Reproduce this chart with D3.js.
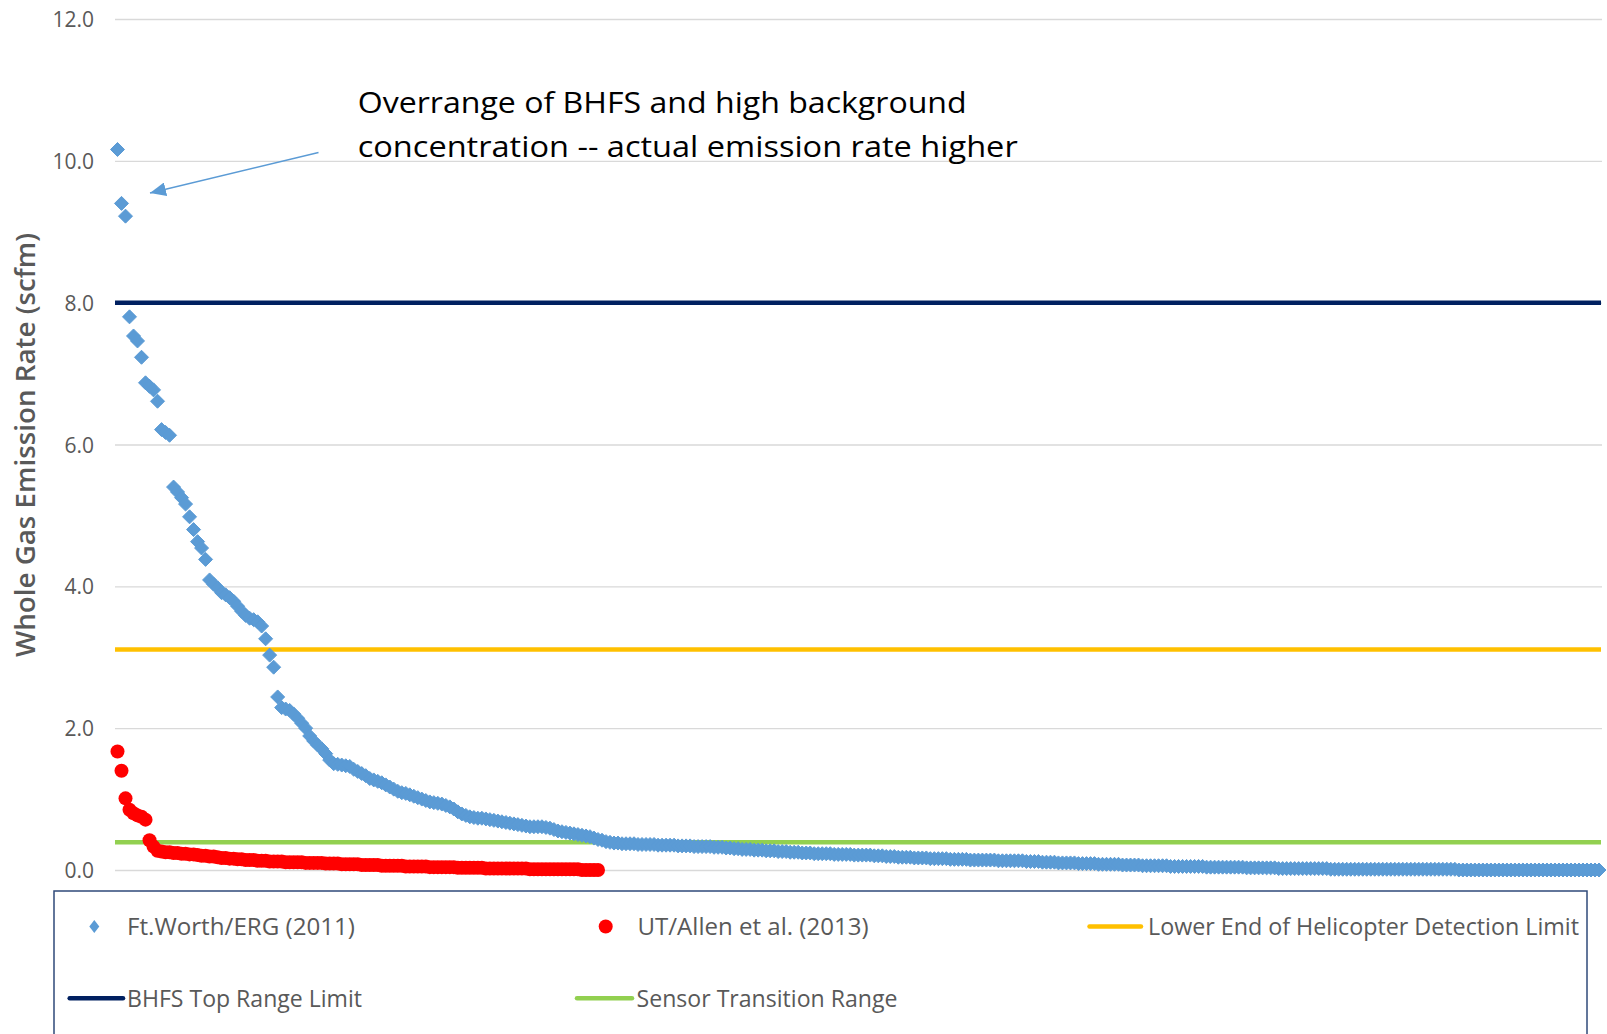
<!DOCTYPE html>
<html>
<head>
<meta charset="utf-8">
<script src="https://cdn.jsdelivr.net/npm/d3@7"></script>
<style>
  html, body { margin: 0; padding: 0; background: #ffffff; }
  svg { display: block; }
</style>
</head>
<body>
<svg id="chart" width="1607" height="1034"></svg>
<script>
// Whole-gas emission rates, sorted high to low (scfm)
const ftWorthName = "Ft.Worth/ERG (2011)";
const ftWorthValues = [
  10.16, 9.40, 9.22, 7.80, 7.53, 7.46, 7.23, 6.87, 6.82, 6.77,
  6.61, 6.21, 6.17, 6.13, 5.40, 5.33, 5.25, 5.16, 4.98, 4.80,
  4.63, 4.54, 4.38, 4.09, 4.03, 3.98, 3.91, 3.88, 3.84, 3.79,
  3.72, 3.65, 3.59, 3.55, 3.53, 3.50, 3.44, 3.26, 3.03, 2.86,
  2.44, 2.29, 2.27, 2.25, 2.20, 2.14, 2.07, 2.00, 1.89, 1.82,
  1.76, 1.71, 1.64, 1.55, 1.50, 1.49, 1.48, 1.47, 1.46, 1.42,
  1.39, 1.36, 1.33, 1.29, 1.27, 1.25, 1.23, 1.20, 1.17, 1.14,
  1.11, 1.09, 1.08, 1.06, 1.04, 1.02, 1.00, 0.98, 0.96, 0.95,
  0.94, 0.93, 0.91, 0.89, 0.86, 0.82, 0.79, 0.77, 0.75, 0.74,
  0.73, 0.73, 0.72, 0.71, 0.70, 0.69, 0.68, 0.67, 0.66, 0.65,
  0.64, 0.63, 0.62, 0.61, 0.61, 0.61, 0.61, 0.60, 0.59, 0.57,
  0.55, 0.54, 0.53, 0.52, 0.51, 0.50, 0.49, 0.48, 0.47, 0.45,
  0.43, 0.42, 0.40, 0.39, 0.38, 0.38,
  0.37, 0.37, 0.37, 0.37,
  0.36, 0.36, 0.36, 0.36, 0.36, 0.35, 0.35, 0.35, 0.35,
  0.35, 0.34, 0.34, 0.34, 0.34, 0.33, 0.33, 0.33, 0.33, 0.33, 0.32, 0.32,
  0.32, 0.31, 0.31, 0.30, 0.30, 0.29, 0.29, 0.29, 0.28, 0.28, 0.28, 0.27, 0.27,
  0.27, 0.26, 0.26, 0.26, 0.25, 0.25, 0.25, 0.24, 0.24, 0.24, 0.23, 0.23,
  0.23, 0.23, 0.23, 0.22, 0.22, 0.22, 0.22, 0.22, 0.21, 0.21, 0.21, 0.21, 0.21,
  0.20, 0.20, 0.20, 0.19, 0.19, 0.19, 0.18, 0.18, 0.18, 0.18, 0.17, 0.17,
  0.17, 0.17, 0.16, 0.16, 0.16, 0.16, 0.16, 0.15, 0.15, 0.15, 0.15, 0.15, 0.14,
  0.14, 0.14, 0.14, 0.14, 0.14, 0.14, 0.13, 0.13, 0.13, 0.13, 0.13, 0.13,
  0.13, 0.12, 0.12, 0.12, 0.12, 0.11, 0.11, 0.11, 0.11, 0.10, 0.10, 0.10,
  0.10, 0.10, 0.09, 0.09, 0.09, 0.09, 0.09, 0.08, 0.08, 0.08, 0.08, 0.08,
  0.08, 0.07, 0.07, 0.07, 0.07, 0.07, 0.06, 0.06, 0.06, 0.06, 0.06, 0.06, 0.06,
  0.05, 0.05, 0.05, 0.05, 0.05, 0.05, 0.05, 0.05, 0.05, 0.04, 0.04, 0.04, 0.04, 0.04, 0.04, 0.04,
  0.04, 0.04, 0.04, 0.03, 0.03, 0.03, 0.03, 0.03, 0.03, 0.03, 0.03, 0.02, 0.02, 0.02, 0.02, 0.02, 0.02, 0.02, 0.02,
  0.02, 0.02, 0.02, 0.02, 0.02, 0.01, 0.01, 0.01, 0.01, 0.01, 0.01, 0.01, 0.01, 0.01, 0.01,
  0.01, 0.01, 0.01, 0.01, 0.01, 0.01, 0.01, 0.01, 0.01, 0.01,
  0.01, 0.01, 0.01, 0.01, 0.01, 0.01, 0.01, 0.01, 0.01, 0.01, 0.01, 0.01,
  0.00, 0.00, 0.00, 0.00, 0.00, 0.00, 0.00, 0.00, 0.00, 0.00, 0.00, 0.00,
  0.00, 0.00, 0.00, 0.00, 0.00, 0.00, 0.00, 0.00, 0.00, 0.00, 0.00, 0.00,
  0.00, 0.00, 0.00, 0.00, 0.00, 0.00, 0.00, 0.00, 0.00, 0.00, 0.00, 0.00
];

const utAllenName = "UT/Allen et al. (2013)";
const utAllenValues = [
  1.67, 1.40, 1.01, 0.85, 0.80, 0.77, 0.75, 0.71, 0.42, 0.33,
  0.27, 0.26, 0.25, 0.25, 0.24, 0.24, 0.23, 0.23, 0.22, 0.22,
  0.21, 0.20, 0.20, 0.19, 0.19, 0.18, 0.17, 0.17, 0.16, 0.16,
  0.15, 0.15, 0.14, 0.14, 0.14, 0.13, 0.13, 0.13, 0.12, 0.12,
  0.12, 0.12, 0.11, 0.11, 0.11, 0.11, 0.11, 0.10, 0.10, 0.10,
  0.10, 0.10, 0.09, 0.09, 0.09, 0.09, 0.08, 0.08, 0.08, 0.08,
  0.08, 0.07, 0.07, 0.07, 0.07, 0.07, 0.06, 0.06, 0.06, 0.06,
  0.06, 0.06, 0.05, 0.05, 0.05, 0.05, 0.05, 0.05, 0.04, 0.04,
  0.04, 0.04, 0.04, 0.04, 0.04, 0.03, 0.03, 0.03, 0.03, 0.03,
  0.03, 0.03, 0.02, 0.02, 0.02, 0.02, 0.02, 0.02, 0.02, 0.02,
  0.02, 0.02, 0.02, 0.01, 0.01, 0.01, 0.01, 0.01, 0.01, 0.01,
  0.01, 0.01, 0.01, 0.01, 0.01, 0.01, 0.00, 0.00, 0.00, 0.00,
  0.00
];

// Horizontal reference limits (scfm)
const limitNames = ["BHFS Top Range Limit", "Lower End of Helicopter Detection Limit", "Sensor Transition Range"];
const limitValues = [8.0, 3.11, 0.39];

const yTickValues = [0, 2, 4, 6, 8, 10, 12];
const yTitle = "Whole Gas Emission Rate (scfm)";
const noteLines = [
  "Overrange of BHFS and high background",
  "concentration -- actual emission rate higher"
];

// ---- drawing ----
const svg = d3.select("#chart");
const plot = { left: 115, right: 1602, top: 19, bottom: 870 };

const y = d3.scaleLinear().domain([0, 12]).range([plot.bottom, plot.top]);
const x = d3.scaleLinear().domain([1, ftWorthValues.length]).range([117.5, 1599]);

const colors = {
  ftWorth: "#5B9BD5",
  utAllen: "#FF0000",
  limits: ["#002060", "#FFC000", "#92D050"],
  grid: "#D9D9D9",
  text: "#595959"
};
const tickFont = "'Open Sans', 'Noto Sans', sans-serif";
const legendFont = "'Liberation Sans Narrow', 'Open Sans', sans-serif";

svg.append("rect").attr("width", 1607).attr("height", 1034).attr("fill", "#fff");

// gridlines and tick labels
const yAxis = d3.axisLeft(y).tickValues(yTickValues)
  .tickSize(-(plot.right - plot.left)).tickFormat(d3.format(".1f"));
const gAxis = svg.append("g").attr("transform", `translate(${plot.left},0)`).call(yAxis);
gAxis.select(".domain").remove();
gAxis.selectAll(".tick line").attr("stroke", colors.grid).attr("stroke-width", 1.3);
gAxis.selectAll(".tick text")
  .attr("x", -21).attr("dy", "0.36em")
  .attr("fill", colors.text)
  .style("font-family", tickFont).style("font-size", "21px");

// axis title
svg.append("text")
  .attr("transform", `translate(35,445) rotate(-90)`)
  .attr("text-anchor", "middle")
  .attr("fill", colors.text)
  .style("font-family", tickFont).style("font-size", "27px").style("font-weight", 600)
  .attr("textLength", 424).attr("lengthAdjust", "spacingAndGlyphs")
  .text(yTitle);

// reference limit lines
svg.append("g").selectAll("line").data(limitValues).join("line")
  .attr("x1", plot.left).attr("x2", plot.right - 1)
  .attr("y1", d => y(d)).attr("y2", d => y(d))
  .attr("stroke", (d, i) => colors.limits[i])
  .attr("stroke-width", 4.5);

// series markers
const diamond = "M0,-7L7,0L0,7L-7,0Z";
svg.append("g").selectAll("path").data(ftWorthValues).join("path")
  .attr("d", diamond)
  .attr("transform", (d, i) => `translate(${x(i + 1)},${y(d)})`)
  .attr("fill", colors.ftWorth)
  .attr("stroke", colors.ftWorth).attr("stroke-width", 1)
  .attr("stroke-linejoin", "round");

svg.append("g").selectAll("circle").data(utAllenValues).join("circle")
  .attr("cx", (d, i) => x(i + 1)).attr("cy", d => y(d)).attr("r", 7)
  .attr("fill", colors.utAllen);

// annotation with arrow
const defs = svg.append("defs");
defs.append("marker").attr("id", "arrowHead")
  .attr("viewBox", "0 0 16 14").attr("refX", 16).attr("refY", 7)
  .attr("markerWidth", 16).attr("markerHeight", 14)
  .attr("markerUnits", "userSpaceOnUse").attr("orient", "auto")
  .append("path").attr("d", "M0,0L16,7L0,14Z").attr("fill", colors.ftWorth);

svg.append("line")
  .attr("x1", 318.5).attr("y1", 152.5).attr("x2", 150).attr("y2", 193)
  .attr("stroke", colors.ftWorth).attr("stroke-width", 1.4)
  .attr("marker-end", "url(#arrowHead)");

const noteWidths = [609, 660];
svg.append("g").selectAll("text").data(noteLines).join("text")
  .attr("x", 357.7).attr("y", (d, i) => 112.5 + i * 44)
  .attr("fill", "#000")
  .style("font-family", tickFont).style("font-size", "30px")
  .attr("textLength", (d, i) => noteWidths[i]).attr("lengthAdjust", "spacingAndGlyphs")
  .text(d => d);

// legend
const legend = svg.append("g");
legend.append("rect")
  .attr("x", 54).attr("y", 891).attr("width", 1533).attr("height", 220)
  .attr("fill", "none").attr("stroke", "#2F4A7A").attr("stroke-width", 1.5);

const legendItems = [
  { kind: "diamond", label: ftWorthName, mx: 94.3, tx: 127, row: 0, w: 228, color: colors.ftWorth },
  { kind: "circle", label: utAllenName, mx: 605.7, tx: 637.5, row: 0, w: 231, color: colors.utAllen },
  { kind: "line", label: limitNames[1], lx: [1089.5, 1141], tx: 1148, row: 0, w: 431, color: colors.limits[1] },
  { kind: "line", label: limitNames[0], lx: [69.7, 123], tx: 127, row: 1, w: 235, color: colors.limits[0] },
  { kind: "line", label: limitNames[2], lx: [577, 632], tx: 636.5, row: 1, w: 261, color: colors.limits[2] }
];
const rowY = [926.5, 998.3];

legendItems.forEach(it => {
  const cy = rowY[it.row];
  if (it.kind === "diamond") {
    legend.append("path").attr("d", "M0,-6.5L5,0L0,6.5L-5,0Z")
      .attr("transform", `translate(${it.mx},${cy})`).attr("fill", it.color);
  } else if (it.kind === "circle") {
    legend.append("circle").attr("cx", it.mx).attr("cy", cy).attr("r", 7).attr("fill", it.color);
  } else {
    legend.append("line").attr("x1", it.lx[0]).attr("x2", it.lx[1])
      .attr("y1", cy).attr("y2", cy)
      .attr("stroke", it.color).attr("stroke-width", 4.5).attr("stroke-linecap", "round");
  }
  legend.append("text")
    .attr("x", it.tx).attr("y", cy + 8.5)
    .attr("fill", colors.text)
    .style("font-family", legendFont).style("font-size", "24px")
    .attr("textLength", it.w).attr("lengthAdjust", "spacingAndGlyphs")
    .text(it.label);
});
</script>
</body>
</html>
